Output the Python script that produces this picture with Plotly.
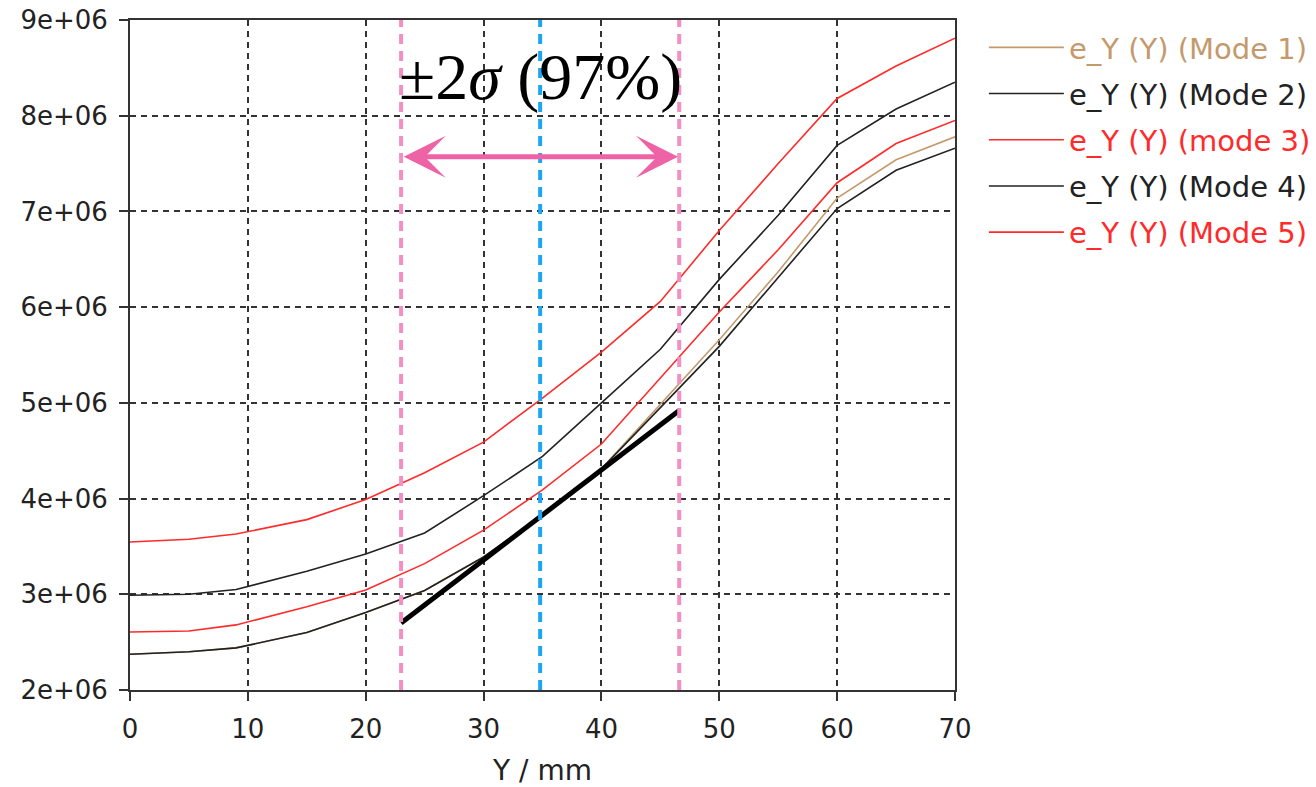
import plotly.graph_objects as go

# ---- data ----
y_pos = [0, 5, 9, 15, 20, 25, 30, 35, 40, 45, 50, 55, 60, 65, 70]  # Y / mm

mode1 = [2.373e6, 2.40e6, 2.44e6, 2.60e6, 2.81e6, 3.04e6, 3.39e6, 3.83e6, 4.31e6, 4.99e6, 5.66e6, 6.37e6, 7.14e6, 7.54e6, 7.78e6]
mode2 = [2.99e6, 3.00e6, 3.05e6, 3.24e6, 3.42e6, 3.64e6, 4.03e6, 4.44e6, 5.00e6, 5.56e6, 6.29e6, 6.96e6, 7.69e6, 8.07e6, 8.35e6]
mode3 = [2.606e6, 2.617e6, 2.68e6, 2.87e6, 3.045e6, 3.32e6, 3.67e6, 4.09e6, 4.57e6, 5.26e6, 5.95e6, 6.60e6, 7.30e6, 7.71e6, 7.95e6]
mode4 = [2.373e6, 2.40e6, 2.44e6, 2.60e6, 2.81e6, 3.04e6, 3.39e6, 3.83e6, 4.31e6, 4.95e6, 5.59e6, 6.31e6, 7.03e6, 7.43e6, 7.66e6]
mode5 = [3.547e6, 3.575e6, 3.63e6, 3.78e6, 3.99e6, 4.27e6, 4.59e6, 5.05e6, 5.53e6, 6.06e6, 6.80e6, 7.50e6, 8.18e6, 8.52e6, 8.81e6]

series_names = ["e_Y (Y) (Mode 1)", "e_Y (Y) (Mode 2)", "e_Y (Y) (mode 3)", "e_Y (Y) (Mode 4)", "e_Y (Y) (Mode 5)"]
series_colors = ["#c49a6c", "#222222", "#ff2a2a", "#222222", "#ff2a2a"]

# linear fit segment
fit_x = [23.0, 46.6]
fit_y = [2.70e6, 4.92e6]

# markers
sigma_lo = 23.0
sigma_hi = 46.6
center = 34.8
arrow_y = 7.57e6
label_y = 8.40e6
label_text = "±2<i>σ</i> (97%)"

x_ticks = [0, 10, 20, 30, 40, 50, 60, 70]
y_ticks = [2e6, 3e6, 4e6, 5e6, 6e6, 7e6, 8e6, 9e6]
y_ticktext = ["2e+06", "3e+06", "4e+06", "5e+06", "6e+06", "7e+06", "8e+06", "9e+06"]

# ---- figure ----
FONT = "DejaVu Sans"
fig = go.Figure()

all_series = [mode1, mode2, mode3, mode4, mode5]
for i, (name, col, vals) in enumerate(zip(series_names, series_colors, all_series)):
    fig.add_trace(go.Scatter(
        x=y_pos, y=vals, mode="lines",
        name=f"<span style='color:{col}'>{name}</span>",
        line=dict(color=col, width=1.6),
        legendgroup=f"g{i}",
    ))

fig.add_trace(go.Scatter(x=fit_x, y=fit_y, mode="lines",
                         line=dict(color="black", width=5), showlegend=False,
                         hoverinfo="skip"))

shapes = []
for xv, col in [(sigma_lo, "#f48fc3"), (sigma_hi, "#f48fc3"), (center, "#1ea5f2")]:
    shapes.append(dict(type="line", xref="x", yref="paper", x0=xv, x1=xv, y0=0, y1=1,
                       line=dict(color=col, width=4, dash="10px,7px"), layer="above"))

annotations = [
    dict(x=sigma_hi - 0.1, y=arrow_y, ax=sigma_lo + 0.1, ay=arrow_y,
         xref="x", yref="y", axref="x", ayref="y", text="", showarrow=True,
         arrowhead=3, startarrowhead=3, arrowside="end+start",
         arrowwidth=5, arrowsize=1.4, startarrowsize=1.4, arrowcolor="#ee62a6"),
    dict(x=center, y=label_y, xref="x", yref="y", text=label_text, showarrow=False,
         font=dict(family="Liberation Serif", size=66, color="black"),
         xanchor="center", yanchor="middle"),
]

fig.update_layout(
    width=1316, height=787,
    margin=dict(l=130, r=361, t=20, b=97, autoexpand=False),
    paper_bgcolor="white", plot_bgcolor="white",
    shapes=shapes, annotations=annotations,
    font=dict(family=FONT, size=26, color="#222222"),
    legend=dict(x=1.035, y=1.0 - 2 / 670, xanchor="left", yanchor="top",
                font=dict(family=FONT, size=29),
                traceorder="grouped", tracegroupgap=5.5, itemwidth=75,
                bgcolor="rgba(0,0,0,0)"),
    xaxis=dict(range=[0, 70], tickvals=x_ticks, showgrid=True, automargin=False,
               gridcolor="#333333", gridwidth=1.5, griddash="6px,5px",
               showline=True, linecolor="#333333", linewidth=2, mirror=True,
               ticks="outside", ticklen=9, tickcolor="#333333", tickwidth=2,
               zeroline=False, ticklabelstandoff=6, ticklabeloverflow="allow",
               title=dict(text="Y / mm", font=dict(family=FONT, size=28), standoff=21)),
    yaxis=dict(range=[2e6, 9e6], tickvals=y_ticks, ticktext=y_ticktext, showgrid=True,
               automargin=False,
               gridcolor="#333333", gridwidth=1.5, griddash="6px,5px",
               showline=True, linecolor="#333333", linewidth=2, mirror=True,
               ticks="outside", ticklen=9, tickcolor="#333333", tickwidth=2,
               zeroline=False, ticklabelstandoff=6, ticklabeloverflow="allow"),
)

# remove the browser's default 8px body margin so the figure fills the window exactly
fig.write_html("out.html", config={"displayModeBar": False},
               post_script="document.body.style.margin='0px';")
